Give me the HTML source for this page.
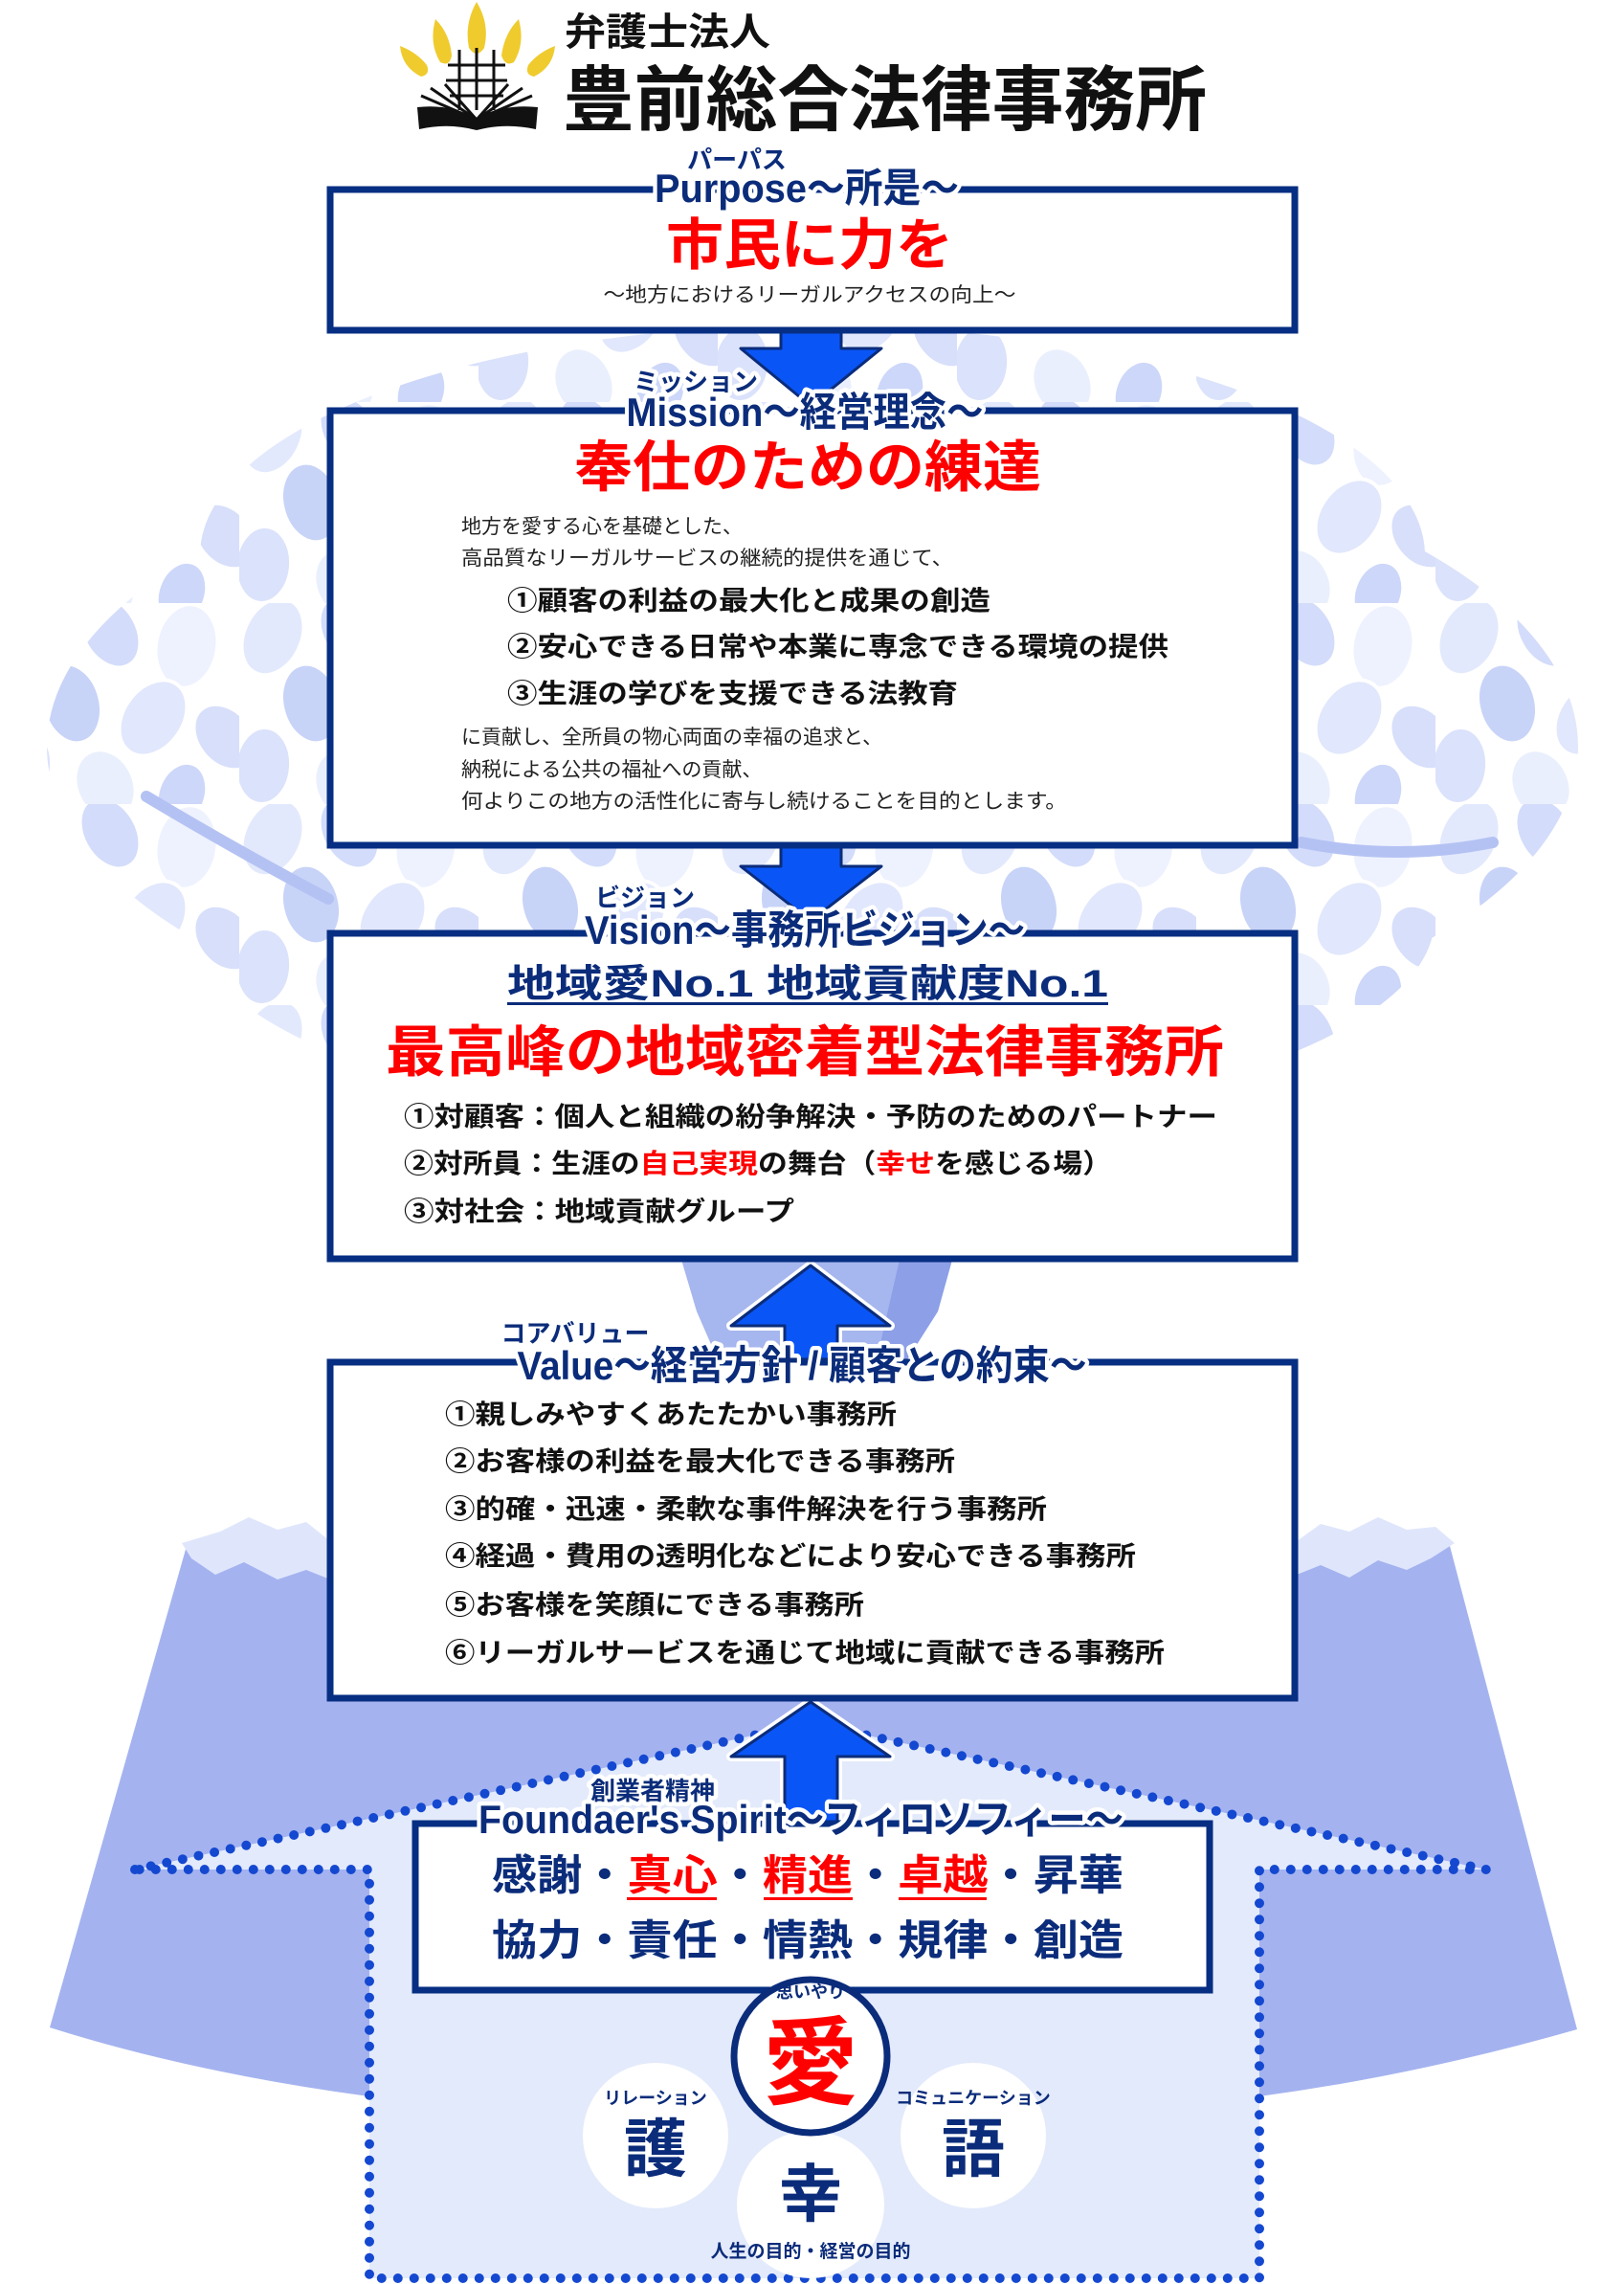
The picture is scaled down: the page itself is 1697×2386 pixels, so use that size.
<!DOCTYPE html>
<html><head><meta charset="utf-8">
<style>
html,body{margin:0;padding:0;background:#fff}
svg{display:block}
.j{font-family:"Liberation Sans","Noto Sans CJK JP",sans-serif}
.lbl{font-family:"Liberation Sans","Noto Sans CJK JP",sans-serif;font-weight:bold;fill:#0b2c7a;stroke:#fff;stroke-width:9px;paint-order:stroke;stroke-linejoin:round}
</style></head>
<body>
<svg width="1697" height="2386" viewBox="0 0 1697 2386" xmlns="http://www.w3.org/2000/svg">
<defs>
<pattern id="lv" width="250" height="210" patternUnits="userSpaceOnUse">
<g stroke="#fff" stroke-width="4">
<ellipse cx="35" cy="35" rx="30" ry="42" fill="#e3e9fd" transform="rotate(25 35 35)"/>
<ellipse cx="115" cy="30" rx="28" ry="40" fill="#d3dcfa" transform="rotate(-30 115 30)"/>
<ellipse cx="195" cy="45" rx="32" ry="44" fill="#eef2fe" transform="rotate(10 195 45)"/>
<ellipse cx="75" cy="105" rx="30" ry="42" fill="#c8d3f8" transform="rotate(-15 75 105)"/>
<ellipse cx="160" cy="120" rx="31" ry="43" fill="#e1e7fc" transform="rotate(35 160 120)"/>
<ellipse cx="235" cy="140" rx="28" ry="38" fill="#d7dffb" transform="rotate(-40 235 140)"/>
<ellipse cx="25" cy="170" rx="29" ry="40" fill="#dbe2fb" transform="rotate(5 25 170)"/>
<ellipse cx="110" cy="190" rx="30" ry="38" fill="#eaeffd" transform="rotate(-25 110 190)"/>
<ellipse cx="190" cy="200" rx="25" ry="34" fill="#cdd7f9" transform="rotate(20 190 200)"/>
</g>
</pattern>
<clipPath id="crown">
<ellipse cx="849" cy="580" rx="640" ry="240"/>
<ellipse cx="849" cy="780" rx="800" ry="340"/>
<ellipse cx="849" cy="960" rx="650" ry="220"/>
</clipPath>
</defs>

<!-- tree crown -->
<g clip-path="url(#crown)">
<rect x="0" y="330" width="1697" height="900" fill="url(#lv)"/>
<g stroke="#b4c2f3" stroke-width="12" fill="none" stroke-linecap="round">
<path d="M153,832 Q250,890 343,939"/>
<path d="M1560,880 Q1460,900 1360,880"/>
</g>
</g>

<!-- trunk -->
<path d="M712,1316 L995,1316 L980,1370 L945,1425 L752,1425 L728,1370 Z" fill="#a6b6ee"/>
<path d="M940,1316 L995,1316 L980,1370 L945,1425 L915,1425 Z" fill="#8c9fe7"/>

<!-- mountain -->
<path d="M195,1615 L1515,1615 L1648,2120 Q1480,2168 1316,2190 L386,2190 Q200,2165 52,2118 Z" fill="#a4b3ef"/>
<path d="M190,1612 L230,1600 L260,1585 L290,1598 L320,1590 L345,1610 L345,1650 L320,1640 L290,1650 L255,1632 L225,1645 L200,1628 Z" fill="#dfe6fc"/>
<path d="M1355,1610 L1380,1592 L1410,1600 L1440,1585 L1470,1598 L1500,1595 L1520,1612 L1495,1628 L1470,1640 L1440,1630 L1410,1648 L1380,1635 L1355,1645 Z" fill="#dfe6fc"/>

<!-- house dotted -->
<path d="M141,1953 L847,1800 L1553,1953 L1316,1953 L1316,2380 L386,2380 L386,1953 Z" fill="#e3eafb" stroke="#1448d0" stroke-width="10" stroke-dasharray="0 17" stroke-linecap="round" stroke-linejoin="round"/>

<!-- logo -->
<g>
<g fill="#efcb2e">
<path d="M498,2 Q485,25 490,50 Q498,62 506,50 Q512,25 498,2 Z"/>
<path d="M455,20 Q448,45 460,65 Q470,70 472,58 Q470,35 455,20 Z"/>
<path d="M542,20 Q527,35 524,58 Q528,70 537,65 Q549,45 542,20 Z"/>
<path d="M418,48 Q420,70 440,80 Q450,78 446,68 Q436,55 418,48 Z"/>
<path d="M580,48 Q562,55 552,68 Q548,78 558,80 Q578,70 580,48 Z"/>
</g>
<g stroke="#111" stroke-width="3" fill="none">
<line x1="480" y1="52" x2="480" y2="115"/><line x1="498" y1="50" x2="498" y2="115"/><line x1="516" y1="52" x2="516" y2="115"/>
<line x1="468" y1="68" x2="528" y2="68"/><line x1="466" y1="84" x2="530" y2="84"/><line x1="470" y1="100" x2="526" y2="100"/>
<path d="M498,125 L440,100 M498,125 L450,92 M498,125 L465,88 M498,125 L556,100 M498,125 L546,92 M498,125 L531,88"/>
</g>
<path d="M436,112 Q470,108 498,124 Q526,108 562,112 L560,135 Q528,128 498,136 Q468,128 438,135 Z" fill="#111"/>
<text x="590" y="47" class="j" font-size="40" font-weight="bold" fill="#111" textLength="215" lengthAdjust="spacingAndGlyphs">弁護士法人</text>
<text x="588" y="130" class="j" font-size="74" font-weight="bold" fill="#111" textLength="673" lengthAdjust="spacingAndGlyphs">豊前総合法律事務所</text>
</g>

<!-- arrows down -->
<g fill="#0a55f5" stroke="#0b2c7a" stroke-width="3" stroke-linejoin="round">
<path d="M816,347 L879,347 L879,364 L921,364 L847,424 L774,364 L816,364 Z"/>
<path d="M816,884 L879,884 L879,905 L921,905 L847,962 L774,905 L816,905 Z"/>
</g>
<!-- arrows up -->
<g fill="#0a55f5" stroke="#0b2c7a" stroke-width="3" stroke-linejoin="round">
<path d="M847,1322 L930,1385 L875,1385 L875,1420 L820,1420 L820,1385 L764,1385 Z" stroke="#fff" stroke-width="10"/>
<path d="M847,1322 L930,1385 L875,1385 L875,1420 L820,1420 L820,1385 L764,1385 Z"/>
<path d="M847,1778 L930,1835 L875,1835 L875,1905 L820,1905 L820,1835 L764,1835 Z" stroke="#fff" stroke-width="10"/>
<path d="M847,1778 L930,1835 L875,1835 L875,1905 L820,1905 L820,1835 L764,1835 Z"/>
</g>

<!-- boxes -->
<g fill="#fff" stroke="#062e82" stroke-width="7">
<rect x="345" y="198" width="1008" height="147"/>
<rect x="345" y="429" width="1008" height="454"/>
<rect x="345" y="975" width="1008" height="340"/>
<rect x="345" y="1423" width="1008" height="351"/>
<rect x="434" y="1905" width="830" height="174"/>
</g>

<!-- Purpose -->
<text x="770" y="176" class="lbl" font-size="26" text-anchor="middle">パーパス</text>
<text x="843" y="211" class="lbl" font-size="42" text-anchor="middle" textLength="318" lengthAdjust="spacingAndGlyphs">Purpose～所是～</text>
<text x="846" y="276" class="j" font-size="58" font-weight="bold" fill="#f00" text-anchor="middle" textLength="300" lengthAdjust="spacingAndGlyphs">市民に力を</text>
<text x="846" y="315" class="j" font-size="21" fill="#222" text-anchor="middle" textLength="431" lengthAdjust="spacingAndGlyphs">～地方におけるリーガルアクセスの向上～</text>

<!-- Mission -->
<text x="727" y="408" class="lbl" font-size="26" text-anchor="middle">ミッション</text>
<text x="841" y="445" class="lbl" font-size="42" text-anchor="middle" textLength="373" lengthAdjust="spacingAndGlyphs">Mission～経営理念～</text>
<text x="844" y="508" class="j" font-size="58" font-weight="bold" fill="#f00" text-anchor="middle" textLength="488" lengthAdjust="spacingAndGlyphs">奉仕のための練達</text>
<g class="j" font-size="21" fill="#222">
<text x="482" y="557">地方を愛する心を基礎とした、</text>
<text x="482" y="590" textLength="514" lengthAdjust="spacingAndGlyphs">高品質なリーガルサービスの継続的提供を通じて、</text>
<text x="482" y="777">に貢献し、全所員の物心両面の幸福の追求と、</text>
<text x="482" y="811">納税による公共の福祉への貢献、</text>
<text x="482" y="844" textLength="633" lengthAdjust="spacingAndGlyphs">何よりこの地方の活性化に寄与し続けることを目的とします。</text>
</g>
<g class="j" font-size="28" font-weight="bold" fill="#111">
<text x="530" y="637" textLength="505" lengthAdjust="spacingAndGlyphs">①顧客の利益の最大化と成果の創造</text>
<text x="530" y="685" textLength="691" lengthAdjust="spacingAndGlyphs">②安心できる日常や本業に専念できる環境の提供</text>
<text x="530" y="734" textLength="471" lengthAdjust="spacingAndGlyphs">③生涯の学びを支援できる法教育</text>
</g>

<!-- Vision -->
<text x="674" y="947" class="lbl" font-size="26" text-anchor="middle">ビジョン</text>
<text x="841" y="986" class="lbl" font-size="42" text-anchor="middle" textLength="460" lengthAdjust="spacingAndGlyphs">Vision～事務所ビジョン～</text>
<text x="844" y="1041" class="j" font-size="40" font-weight="bold" fill="#0b2c7a" text-anchor="middle" textLength="628" lengthAdjust="spacingAndGlyphs">地域愛No.1  地域貢献度No.1</text>
<rect x="530" y="1047" width="628" height="3" fill="#0b2c7a"/>
<text x="841" y="1119" class="j" font-size="58" font-weight="bold" fill="#f00" text-anchor="middle" textLength="876" lengthAdjust="spacingAndGlyphs">最高峰の地域密着型法律事務所</text>
<g class="j" font-size="28" font-weight="bold" fill="#111">
<text x="422" y="1176" textLength="850" lengthAdjust="spacingAndGlyphs">①対顧客：個人と組織の紛争解決・予防のためのパートナー</text>
<text x="422" y="1225" textLength="740" lengthAdjust="spacingAndGlyphs">②対所員：生涯の<tspan fill="#f00">自己実現</tspan>の舞台（<tspan fill="#f00">幸せ</tspan>を感じる場）</text>
<text x="422" y="1275" textLength="408" lengthAdjust="spacingAndGlyphs">③対社会：地域貢献グループ</text>
</g>

<!-- Value -->
<text x="601" y="1402" class="lbl" font-size="26" text-anchor="middle">コアバリュー</text>
<text x="838" y="1441" class="lbl" font-size="42" text-anchor="middle" textLength="595" lengthAdjust="spacingAndGlyphs">Value～経営方針 / 顧客との約束～</text>
<g class="j" font-size="28" font-weight="bold" fill="#111">
<text x="465" y="1487" textLength="472" lengthAdjust="spacingAndGlyphs">①親しみやすくあたたかい事務所</text>
<text x="465" y="1536" textLength="533" lengthAdjust="spacingAndGlyphs">②お客様の利益を最大化できる事務所</text>
<text x="465" y="1586" textLength="629" lengthAdjust="spacingAndGlyphs">③的確・迅速・柔軟な事件解決を行う事務所</text>
<text x="465" y="1635" textLength="722" lengthAdjust="spacingAndGlyphs">④経過・費用の透明化などにより安心できる事務所</text>
<text x="465" y="1686" textLength="438" lengthAdjust="spacingAndGlyphs">⑤お客様を笑顔にできる事務所</text>
<text x="465" y="1736" textLength="752" lengthAdjust="spacingAndGlyphs">⑥リーガルサービスを通じて地域に貢献できる事務所</text>
</g>

<!-- Spirit -->
<text x="682" y="1880" class="lbl" font-size="26" text-anchor="middle">創業者精神</text>
<text x="837" y="1915" class="lbl" font-size="42" text-anchor="middle" textLength="674" lengthAdjust="spacingAndGlyphs">Foundaer's Spirit～フィロソフィー～</text>
<g class="j" font-size="44" font-weight="bold" fill="#0b2c7a">
<text x="514" y="1974" textLength="660" lengthAdjust="spacingAndGlyphs">感謝・<tspan fill="#f00">真心</tspan>・<tspan fill="#f00">精進</tspan>・<tspan fill="#f00">卓越</tspan>・昇華</text>
<text x="514" y="2042" textLength="660" lengthAdjust="spacingAndGlyphs">協力・責任・情熱・規律・創造</text>
</g>
<g fill="#f00">
<rect x="655" y="1982" width="94" height="3"/>
<rect x="798" y="1982" width="93" height="3"/>
<rect x="939" y="1982" width="92" height="3"/>
</g>

<!-- circles -->
<ellipse cx="685" cy="2231" rx="76" ry="76" fill="#fff"/>
<ellipse cx="1017" cy="2231" rx="76" ry="76" fill="#fff"/>
<ellipse cx="847" cy="2303" rx="77" ry="77" fill="#fff"/>
<ellipse cx="847" cy="2148" rx="80" ry="80" fill="#fff" stroke="#0b2c7a" stroke-width="7"/>
<g class="j" font-weight="bold" fill="#0b2c7a" text-anchor="middle">
<text x="847" y="2087" font-size="18">思いやり</text>
<text x="847" y="2190" font-size="100" fill="#f00">愛</text>
<text x="685" y="2198" font-size="18">リレーション</text>
<text x="685" y="2268" font-size="66">護</text>
<text x="1017" y="2198" font-size="18">コミュニケーション</text>
<text x="1017" y="2268" font-size="66">語</text>
<text x="847" y="2315" font-size="66">幸</text>
<text x="847" y="2358" font-size="19">人生の目的・経営の目的</text>
</g>
</svg>
</body></html>
